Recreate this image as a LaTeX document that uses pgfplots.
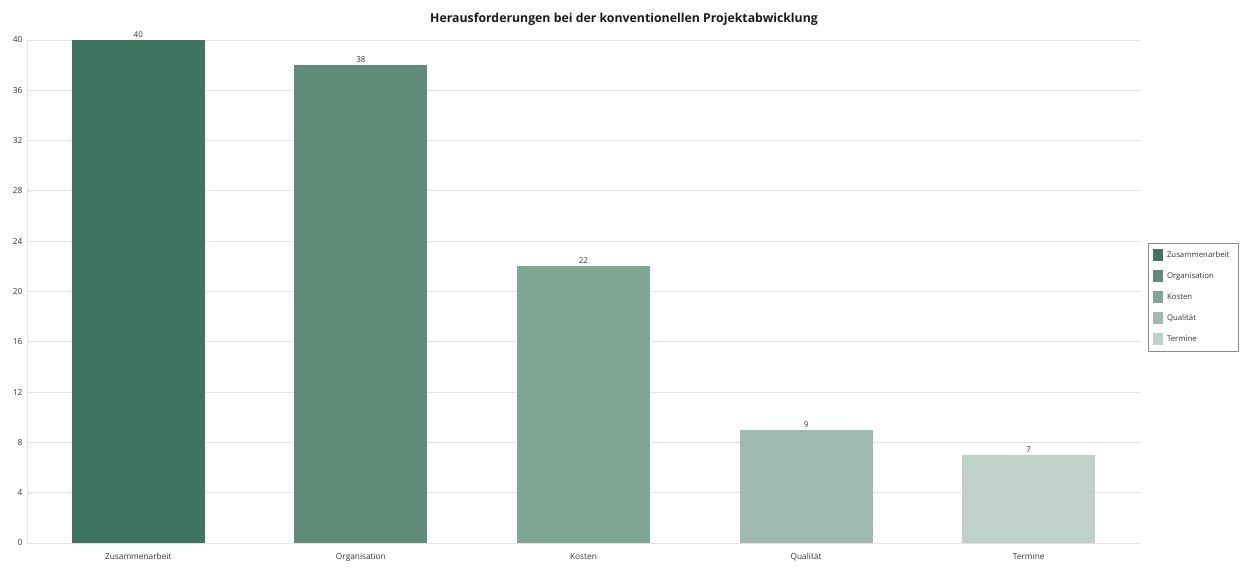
\documentclass[border=0pt]{standalone}
\usepackage{pgfplots}
\pgfplotsset{compat=1.18}
\usepackage{fontspec}
\setmainfont{Open Sans}

\definecolor{c1}{HTML}{3D7560}
\definecolor{c2}{HTML}{5E8C79}
\definecolor{c3}{HTML}{7EA694}
\definecolor{c4}{HTML}{A0BAAF}
\definecolor{c5}{HTML}{BFD2CA}
\definecolor{gridc}{HTML}{E3E3E3}
\definecolor{txt}{HTML}{333333}

\begin{document}
\begin{tikzpicture}[x=1pt,y=1pt]
\useasboundingbox (0,0) rectangle (1240,570);
\begin{axis}[
  at={(27pt,27pt)}, anchor=south west,
  scale only axis,
  width=1113pt, height=503pt,
  xmin=-0.5, xmax=4.5,
  ymin=0, ymax=40,
  ytick={0,4,...,40},
  xtick={0,1,2,3,4},
  xticklabels={Zusammenarbeit,Organisation,Kosten,Qualität,Termine},
  /pgf/number format/assume math mode=true,
  ticklabel style={font=\fontsize{8.3}{10}\selectfont, text=txt},
  xtick style={draw=none},
  ytick style={draw=gridc},
  major tick length=3pt,
  ymajorgrids, grid style={gridc, line width=0.8pt},
  axis x line*=bottom, axis y line*=left,
  axis line style={gridc, line width=0.8pt},
  x axis line style={-}, y axis line style={-},
  ybar, bar width=133pt, bar shift=0pt,
  nodes near coords,
  every node near coord/.append style={font=\fontsize{8}{9}\selectfont, text=txt, yshift=-1pt},
  legend style={
    at={(1.007,0.489)}, anchor=west,
    draw=black!45, line width=0.5pt,
    font=\fontsize{7.8}{9}\selectfont, text=txt,
    row sep=9pt, inner xsep=5pt, inner ysep=6pt,
    legend cell align=left,
    nodes={inner xsep=4pt},
  },
  legend image code/.code={
    \fill[#1] (0pt,-6pt) rectangle (10pt,6pt);
  },
  xticklabel style={yshift=-4pt},
  yticklabel style={xshift=-1pt},
]
\addplot[fill=c1, draw=none] coordinates {(0,40)};
\addlegendentry{Zusammenarbeit}
\addplot[fill=c2, draw=none] coordinates {(1,38)};
\addlegendentry{Organisation}
\addplot[fill=c3, draw=none] coordinates {(2,22)};
\addlegendentry{Kosten}
\addplot[fill=c4, draw=none] coordinates {(3,9)};
\addlegendentry{Qualität}
\addplot[fill=c5, draw=none] coordinates {(4,7)};
\addlegendentry{Termine}
\end{axis}
\node[font=\bfseries\fontsize{12.3}{14}\selectfont, text=black!90] at (624,551) {Herausforderungen bei der konventionellen Projektabwicklung};
\end{tikzpicture}
\end{document}
